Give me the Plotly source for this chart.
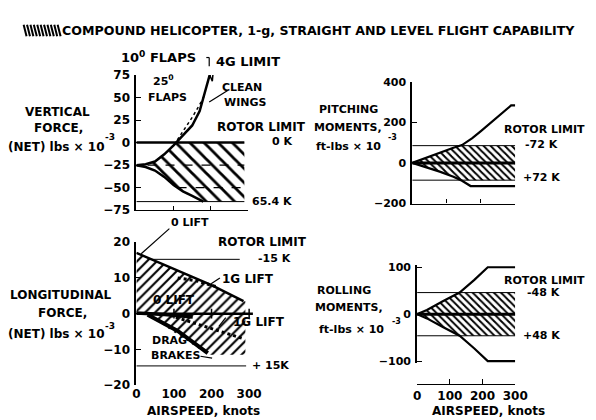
import numpy as np
import plotly.graph_objects as go

W, H = 596, 420
FONT = "DejaVu Sans, Liberation Sans, sans-serif"

# ---------------- DATA ----------------
title_text = "COMPOUND HELICOPTER, 1-g, STRAIGHT AND LEVEL FLIGHT CAPABILITY"
airspeed_ticks = [0, 100, 200, 300]

# Vertical force (lbs x 1e-3)
vf_up_x = [0, 25, 50, 75, 100, 125, 150, 170, 185, 197]
vf_up_y = [-25, -24, -21, -13, -3, 8, 19, 35, 56, 75]
vf_flaps_x = [110, 130, 150, 170, 185]
vf_flaps_y = [3, 15, 28, 42, 54]
vf_lo_x = [0, 25, 50, 75, 100, 125, 150, 180]
vf_lo_y = [-25, -27, -31, -38, -47, -54, -59, -65.4]
vf_4g_tip_x = [197, 206, 204, 197]
vf_4g_tip_y = [75, 77, 68, 75]
vf_rotor_limits = [0, -65.4]
vf_dashed_levels = [-25, -50]
vf_4g_limit = 77
vf_xmax = 290
vf_yticks = [-75, -50, -25, 0, 25, 50, 75]

# Pitching moments (ft-lbs x 1e-3)
pm_up_x = [0, 40, 80, 120, 145, 175, 200, 230, 260, 288, 300]
pm_up_y = [0, 25, 52, 75, 88, 122, 157, 200, 240, 283, 283]
pm_lo_x = [0, 40, 80, 120, 145, 170, 300]
pm_lo_y = [0, -20, -43, -68, -88, -114, -114]
pm_limit = 85
pm_xmax = 300
pm_yticks = [-200, 0, 200, 400]

# Longitudinal force (lbs x 1e-3)
lf_up_x = [0, 100, 200, 285]
lf_up_y = [17, 12.5, 8, 3.5]
lf_1g_up_x = [110, 160, 214]
lf_1g_up_y = [10, 9.2, 7.5]
lf_0lift_lo_x = [0, 75, 150]
lf_0lift_lo_y = [0.2, -0.2, -0.9]
lf_1g_lo_x = [90, 190, 285]
lf_1g_lo_y = [-0.5, -3.8, -7]
lf_drag_x = [30, 110, 190]
lf_drag_y = [-0.3, -4.8, -11]
lf_lo_bound_x = [0, 30, 190, 290]
lf_lo_bound_y = [0, -0.3, -11.5, -11.5]
lf_rotor_hi = 15.2
lf_rotor_hi_x = [30, 275]
lf_rotor_lo = -14.6
lf_rotor_lo_x = [0, 292]
lf_zero_x = [0, 310]
lf_yticks = [-20, -10, 0, 10, 20]

# Rolling moments (ft-lbs x 1e-3)
rm_up_x = [0, 30, 80, 130, 175, 216, 300]
rm_up_y = [0, 9, 28, 46, 73, 100, 100]
rm_lo_x = [0, 30, 80, 130, 175, 216, 300]
rm_lo_y = [0, -9, -28, -46, -73, -100, -100]
rm_limit = 46
rm_xmax = 300
rm_yticks = [-100, 0, 100]


def px(x):
    return x / W


def py(y):
    return 1 - y / H


fig = go.Figure()
BL = "black"


def line(x, y, ax, width=2.5, dash="solid"):
    fig.add_trace(go.Scatter(x=x, y=y, mode="lines", xaxis=ax[0], yaxis=ax[1],
                             line=dict(color=BL, width=width, dash=dash),
                             hoverinfo="skip", showlegend=False))


def hatch(x, y, ax, shape, size, sol=0.3):
    fig.add_trace(go.Scatter(x=x, y=y, mode="lines", fill="toself", xaxis=ax[0], yaxis=ax[1],
                             line=dict(width=0, color="rgba(0,0,0,0)"),
                             fillcolor="rgba(0,0,0,0)",
                             fillpattern=dict(shape=shape, fgcolor=BL, fgopacity=1,
                                              bgcolor="rgba(0,0,0,0)",
                                              size=size, solidity=sol),
                             hoverinfo="skip", showlegend=False))


# ---- Vertical force panel ----
A1 = ("x", "y")
uy = np.array(vf_up_y, float)
ux = np.array(vf_up_x, float)
x0 = float(np.interp(0, uy, ux))
neg = uy < 0
poly_x = list(ux[neg]) + [x0, vf_xmax, vf_xmax] + list(vf_lo_x[::-1])
poly_y = list(uy[neg]) + [0, 0, vf_lo_y[-1]] + list(vf_lo_y[::-1])
hatch(poly_x, poly_y, A1, "\\", 10, 0.28)
for lev in vf_dashed_levels:
    xs = float(np.interp(-lev, -np.array(vf_lo_y), vf_lo_x)) if lev < -25 else 30
    line([xs, vf_xmax], [lev, lev], A1, 1.3, "dash")
line(vf_up_x, vf_up_y, A1, 2.5)
line(vf_flaps_x, vf_flaps_y, A1, 1.5, "dot")
line(vf_lo_x, vf_lo_y, A1, 2.5)
line(vf_4g_tip_x, vf_4g_tip_y, A1, 1.5)
line([0, vf_xmax], [vf_rotor_limits[0]] * 2, A1, 2.5)
line([0, vf_xmax], [vf_rotor_limits[1]] * 2, A1, 1)
line([200, vf_xmax], [vf_4g_limit] * 2, A1, 1.5, "dash")

# ---- Pitching moments panel ----
A2 = ("x2", "y2")


def band(upx, upy, lox, loy, lim, xmax):
    upx = np.array(upx, float); upy = np.array(upy, float)
    lox = np.array(lox, float); loy = np.array(loy, float)
    xu = float(np.interp(lim, upy, upx))
    xl = float(np.interp(lim, -loy, lox))
    mu = upy < lim
    ml = loy > -lim
    X = list(upx[mu]) + [xu, xmax, xmax, xl] + list(lox[ml][::-1])
    Y = list(upy[mu]) + [lim, lim, -lim, -lim] + list(loy[ml][::-1])
    return X, Y


bx, by = band(pm_up_x, pm_up_y, pm_lo_x, pm_lo_y, pm_limit, pm_xmax)
hatch(bx, by, A2, "\\", 5, 0.4)
line([0, pm_xmax], [pm_limit] * 2, A2, 1)
line([0, pm_xmax], [-pm_limit] * 2, A2, 1)
line([0, pm_xmax], [0, 0], A2, 3)
line(pm_up_x, pm_up_y, A2, 2.2)
line(pm_lo_x, pm_lo_y, A2, 2.2)

# ---- Longitudinal force panel ----
A3 = ("x3", "y3")
lx = list(lf_up_x) + [lf_lo_bound_x[-1]] + list(lf_lo_bound_x[::-1])
ly = list(lf_up_y) + [lf_up_y[-1]] + list(lf_lo_bound_y[::-1])
hatch(lx, ly, A3, "/", 7, 0.3)
line(lf_rotor_hi_x, [lf_rotor_hi] * 2, A3, 1)
line(lf_rotor_lo_x, [lf_rotor_lo] * 2, A3, 1)
line(lf_zero_x, [0, 0], A3, 2.5)
line(lf_up_x, lf_up_y, A3, 2.5)
line(lf_1g_up_x, lf_1g_up_y, A3, 3, "dot")
line(lf_0lift_lo_x, lf_0lift_lo_y, A3, 3.5)
line(lf_1g_lo_x, lf_1g_lo_y, A3, 3, "dot")
line(lf_drag_x, lf_drag_y, A3, 4)
fig.add_trace(go.Scatter(x=airspeed_ticks[1:], y=[0] * 3, mode="markers", xaxis="x3", yaxis="y3",
                         marker=dict(symbol="line-ns", size=7, line=dict(width=1.5, color=BL)),
                         hoverinfo="skip", showlegend=False))

# ---- Rolling moments panel ----
A4 = ("x4", "y4")
bx, by = band(rm_up_x, rm_up_y, rm_lo_x, rm_lo_y, rm_limit, rm_xmax)
hatch(bx, by, A4, "\\", 5, 0.4)
line([0, rm_xmax], [rm_limit] * 2, A4, 1)
line([0, rm_xmax], [-rm_limit] * 2, A4, 1)
line([0, rm_xmax], [0, 0], A4, 3)
line(rm_up_x, rm_up_y, A4, 2.2)
line(rm_lo_x, rm_lo_y, A4, 2.2)

tickfont = dict(family=FONT, size=11, color=BL, weight="bold")
tickfont12 = dict(family=FONT, size=12, color=BL, weight="bold")
common = dict(showgrid=False, zeroline=False, linecolor=BL, tickcolor=BL, fixedrange=True)

fig.update_layout(
    width=W, height=H, autosize=False,
    margin=dict(l=0, r=0, t=0, b=0),
    paper_bgcolor="white", plot_bgcolor="rgba(0,0,0,0)",
    showlegend=False,
    xaxis=dict(domain=[px(128), px(243)], range=[0, 300], anchor="y", showline=True, linewidth=1.2,
               ticks="inside", ticklen=4, tickvals=[100, 200], showticklabels=False, **common),
    yaxis=dict(domain=[py(202), py(62)], range=[-75, 75], anchor="x", showline=True, linewidth=1.8,
               ticks="inside", ticklen=5, tickvals=vf_yticks, ticklabelstandoff=2,
               tickfont=tickfont12, **common),
    xaxis2=dict(domain=[px(412), px(518)], range=[0, 300], anchor="y2", showline=True, linewidth=1.2,
                ticks="inside", ticklen=4, tickvals=[100, 200, 300], showticklabels=False, **common),
    yaxis2=dict(domain=[py(195), py(69)], range=[-200, 400], anchor="x2", showline=True, linewidth=1.8,
                ticks="inside", ticklen=5, tickvals=pm_yticks, ticklabelstandoff=2,
                tickfont=tickfont, **common),
    xaxis3=dict(domain=[px(128), px(128 + 312 * 0.387)], range=[0, 312], anchor="y3", showline=False,
                ticks="", tickvals=airspeed_ticks, ticklabelstandoff=0, tickfont=tickfont12, **common),
    yaxis3=dict(domain=[py(383), py(235)], range=[-20, 20], anchor="x3", showline=True, linewidth=1.8,
                ticks="inside", ticklen=5, tickvals=lf_yticks, ticklabelstandoff=2,
                tickfont=tickfont12, **common),
    xaxis4=dict(domain=[px(417), px(518)], range=[0, 300], anchor="free", position=py(382), showline=True,
                linewidth=1.2, ticks="inside", ticklen=5, tickvals=airspeed_ticks, ticklabelstandoff=0,
                tickfont=tickfont12, **common),
    yaxis4=dict(domain=[py(360), py(259)], range=[-104, 104], anchor="x4", showline=True, linewidth=1.8,
                ticks="inside", ticklen=5, tickvals=rm_yticks, ticklabelstandoff=2,
                tickfont=tickfont, **common),
)

anns = []


def ann(text, x, y, size=12, xa="center"):
    anns.append(dict(text=text, x=px(x), y=py(y), xref="paper", yref="paper", showarrow=False,
                     font=dict(family=FONT, size=size, color=BL, weight="bold"),
                     xanchor=xa, yanchor="middle", borderpad=0))


ann(title_text, 316, 16, 12.6)
# vertical force
ann("10<sup>0</sup> FLAPS", 151, 43, 13)
ann("4G LIMIT", 243, 48, 13)
ann("25<sup>0</sup>", 156, 68, 11)
ann("FLAPS", 160, 85, 11)
ann("CLEAN", 237, 75, 11)
ann("WINGS", 240, 90, 11)
ann("ROTOR LIMIT", 257, 116, 12)
ann("0 K", 278, 131, 11)
ann("65.4 K", 268, 193, 11)
ann("VERTICAL", 47, 100)
ann("FORCE,", 48, 117)
ann("(NET) lbs × 10", 46, 137)
ann("-3", 101, 126, 9)
# pitching
ann("PITCHING", 346, 98, 11)
ann("MOMENTS,", 346, 116, 11)
ann("ft-lbs × 10", 346, 136, 11)
ann("-3", 392, 127, 8)
ann("ROTOR LIMIT", 548, 118, 11)
ann("-72 K", 545, 134, 11)
ann("+72 K", 545, 168, 11)
# longitudinal
ann("0 LIFT", 183, 215, 11)
ann("ROTOR LIMIT", 258, 235, 12)
ann("-15 K", 270, 252, 11)
ann("1G LIFT", 243, 273, 12)
ann("LONGITUDINAL", 50, 290)
ann("FORCE,", 52, 308)
ann("(NET) lbs × 10", 46, 330)
ann("-3", 101, 322, 9)
ann("0 LIFT", 167, 295, 12)
ann("1G LIFT", 254, 318, 12)
ann("DRAG", 162, 337, 11)
ann("BRAKES", 168, 352, 11)
ann("+ 15K", 266, 363, 11)
ann("AIRSPEED, knots", 197, 410)
# rolling
ann("ROLLING", 342, 285, 11)
ann("MOMENTS,", 347, 303, 11)
ann("ft-lbs × 10", 349, 325, 11)
ann("-3", 396, 317, 8)
ann("ROTOR LIMIT", 548, 275, 11)
ann("-48 K", 547, 287, 11)
ann("+48 K", 545, 332, 11)
ann("AIRSPEED, knots", 490, 410)

fig.update_layout(annotations=anns)

shapes = []


def seg(x1, y1, x2, y2, w=1.2):
    shapes.append(dict(type="line", xref="paper", yref="paper", x0=px(x1), y0=py(y1),
                       x1=px(x2), y1=py(y2), line=dict(color=BL, width=w)))


# legend swatch (hatched box)
for i in range(11):
    xl = 12 + 3.5 * i
    seg(xl, 10, xl + 3, 22, 2)

seg(200, 44, 203, 44)
seg(203, 44, 203, 53)
seg(222, 78, 203, 90)
seg(162, 221, 133, 247)
seg(214, 272, 205, 278)
seg(213, 322, 220, 313)
seg(194, 353, 206, 355)
fig.update_layout(shapes=shapes)

fig.write_html("out.html")
